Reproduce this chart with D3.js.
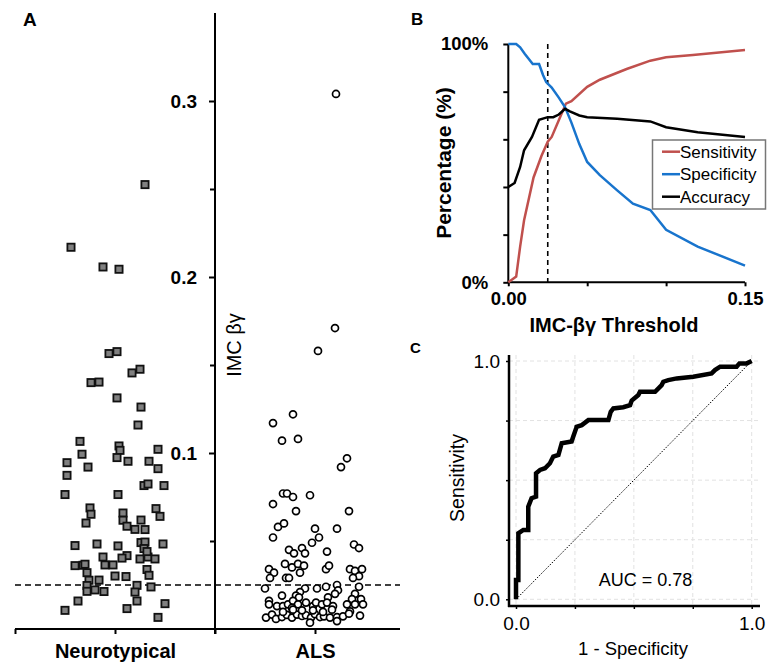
<!DOCTYPE html>
<html lang="en">
<head>
<meta charset="utf-8">
<title>IMC beta-gamma</title>
<script src="https://d3js.org/d3.v7.min.js" charset="utf-8"></script>
<style>
  body { margin: 0; background: #fff; }
  svg text { font-family: "Liberation Sans", Arial, sans-serif; fill: #000; }
</style>
</head>
<body>
<script>
// ---- data ----
var groups = ["Neurotypical", "ALS"];
var cutoff = 0.025;

var ntValues = [0.2525,0.2169,0.2057,0.2044,0.1565,0.1576,0.1455,0.1476,0.1400,0.1403,
  0.1313,0.1261,0.1159,0.1066,0.1040,0.1015,0.1021,0.0993,0.0945,0.0974,
  0.0953,0.0953,0.0911,0.0920,0.0873,0.0815,0.0824,0.0815,0.0764,0.0764,
  0.0688,0.0652,0.0684,0.0640,0.0659,0.0618,0.0602,0.0584,0.0619,0.0566,
  0.0565,0.0474,0.0483,0.0472,0.0491,0.0494,0.0457,0.0483,0.0409,0.0417,
  0.0403,0.0398,0.0409,0.0440,0.0398,0.0360,0.0362,0.0368,0.0364,0.0364,
  0.0338,0.0305,0.0320,0.0301,0.0298,0.0277,0.0278,0.0247,0.0214,0.0222,
  0.0213,0.0248,0.0210,0.0159,0.0239,0.0159,0.0116,0.0106,0.0144,0.0066];
var ntJitter = [0.30,-0.44,-0.12,0.04,-0.06,0.02,0.17,0.25,-0.24,-0.16,
  0.02,0.26,0.23,-0.35,0.04,0.05,0.43,-0.33,-0.48,0.02,
  0.13,0.34,0.43,-0.27,-0.48,0.29,0.33,0.49,-0.50,0.03,
  -0.25,-0.24,0.41,0.45,0.08,0.08,-0.29,0.12,0.26,0.20,
  0.30,-0.40,-0.18,0.03,0.26,0.30,0.29,0.48,-0.12,0.12,
  0.07,0.25,0.33,0.32,0.40,-0.40,-0.32,-0.30,-0.10,-0.02,
  0.32,0.34,-0.28,0.00,0.11,-0.26,-0.16,-0.28,-0.28,-0.20,
  -0.11,0.22,0.20,0.22,0.36,-0.37,0.12,-0.50,0.50,0.43];

var alsValues = [0.304,0.171,0.158,0.122,0.117,0.107,0.108,0.097,0.092,0.071,
  0.077,0.077,0.075,0.076,0.067,0.067,0.058,0.060,0.057,0.057,
  0.052,0.049,0.052,0.048,0.046,0.045,0.043,0.046,0.043,0.044,
  0.037,0.035,0.037,0.036,0.032,0.034,0.032,0.029,0.029,0.029,
  0.034,0.036,0.034,0.033,0.034,0.030,0.029,0.023,0.023,0.021,
  0.019,0.018,0.023,0.024,0.025,0.022,0.020,0.018,0.024,0.020,
  0.017,0.017,0.019,0.016,0.014,0.013,0.013,0.014,0.016,0.014,
  0.012,0.015,0.013,0.015,0.014,0.015,0.013,0.014,0.014,0.014,
  0.010,0.0065,0.0082,0.0057,0.0068,0.0080,0.0065,0.0082,0.0074,0.0078,
  0.0065,0.0084,0.0068,0.0072,0.0065,0.0068,0.0072,0.0087,0.0076,0.0036,
  0.0045,0.0097,0.0110,0.0106,0.0106,0.0097,0.0110];
var alsJitter = [0.21,0.20,0.03,-0.22,-0.42,-0.33,-0.17,0.32,0.26,-0.42,
  -0.32,-0.28,-0.22,-0.05,-0.19,0.34,-0.37,-0.31,0.00,0.22,
  -0.42,-0.03,0.04,0.39,0.44,-0.26,-0.21,-0.13,-0.10,0.12,
  -0.30,-0.23,-0.17,-0.11,-0.15,-0.46,-0.41,-0.45,-0.29,-0.26,
  0.11,0.14,0.35,0.40,0.47,0.44,0.38,-0.50,-0.10,-0.15,
  -0.19,-0.16,0.02,0.11,0.22,0.23,0.20,0.13,0.44,0.40,
  0.46,0.37,-0.33,-0.46,-0.46,-0.38,-0.32,-0.27,-0.22,-0.17,
  -0.23,-0.09,-0.02,0.01,0.07,0.12,0.18,0.32,0.40,0.48,
  0.35,-0.49,-0.43,-0.39,-0.33,-0.28,-0.23,-0.18,-0.13,-0.09,
  -0.04,0.00,0.05,0.09,0.15,0.22,0.28,0.34,0.45,-0.05,
  0.22,-0.32,-0.22,-0.13,-0.02,0.08,0.17];
var aTicks = [0.1, 0.2, 0.3];
var aMinorTicks = [0.05, 0.15, 0.25];

// panel B: [threshold, percent]
var sensitivity = [[0,0],[0.005,2.4],[0.0075,15],[0.01,26],[0.016,44],[0.021,53],[0.025,59],
  [0.0275,61],[0.032,68],[0.0365,75],[0.04,76],[0.05,82],[0.058,85],[0.075,89.5],[0.09,93],
  [0.10,94.4],[0.117,95.4],[0.15,97.5]];
var specificity = [[0,100],[0.005,100],[0.0075,98.6],[0.0105,95.8],[0.0155,91.6],[0.0195,91.6],
  [0.022,87],[0.024,84],[0.0275,81.7],[0.032,77.5],[0.036,73.4],[0.04,67],[0.045,58],[0.05,50.5],
  [0.058,45],[0.069,38.6],[0.079,33],[0.09,30.3],[0.10,22],[0.12,15],[0.15,7]];
var accuracy = [[0,40],[0.004,41.7],[0.0075,48.4],[0.01,55.4],[0.015,61],[0.0195,68.2],[0.025,69.3],
  [0.0285,69.3],[0.032,70.4],[0.036,72.8],[0.039,71.7],[0.045,70],[0.05,69.3],[0.069,68.6],
  [0.09,67.5],[0.10,65.1],[0.12,63],[0.15,61]];
var seriesNames = ["Sensitivity", "Specificity", "Accuracy"];
var seriesColors = ["#c0504d", "#1874cd", "#000000"];

// panel C ROC
var rocFpr = [0,0,0.010,0.010,0.031,0.052,0.052,0.066,0.085,0.085,0.102,0.123,0.144,0.158,0.180,
  0.194,0.236,0.243,0.255,0.257,0.279,0.307,0.392,0.402,0.413,0.455,0.484,0.491,0.519,0.526,
  0.590,0.618,0.625,0.646,0.682,0.752,0.830,0.844,0.866,0.936,0.948,0.979,1.0];
var rocTpr = [0,0.081,0.081,0.277,0.291,0.291,0.389,0.424,0.431,0.529,0.543,0.550,0.571,0.599,0.606,
  0.655,0.662,0.683,0.717,0.724,0.731,0.752,0.752,0.787,0.801,0.806,0.815,0.834,0.857,0.871,
  0.871,0.899,0.913,0.920,0.927,0.934,0.948,0.962,0.976,0.976,0.990,0.990,1.0];
var auc = 0.78;

// ---- drawing ----
var svg = d3.select("body").append("svg").attr("width", 767).attr("height", 662);

function panelLabel(t, x, y, size) {
  svg.append("text").attr("x", x).attr("y", y).attr("font-size", size)
    .attr("font-weight", "bold").text(t);
}

// ===== Panel A =====
var xA = d3.scaleLinear().domain([0, 3.85]).range([15, 400]);
var yA = d3.scaleLinear().domain([0, 0.35]).range([629, 13]);

var gA = svg.append("g");
gA.append("line").attr("x1", xA(2)).attr("x2", xA(2)).attr("y1", yA(0.35)).attr("y2", yA(0) + 5)
  .attr("stroke", "#000").attr("stroke-width", 2);
gA.append("line").attr("x1", xA(0)).attr("x2", xA(3.85)).attr("y1", yA(0)).attr("y2", yA(0))
  .attr("stroke", "#000").attr("stroke-width", 2);

var ayMaj = gA.append("g").attr("transform", "translate(" + xA(2) + ",0)")
  .call(d3.axisLeft(yA).tickValues(aTicks).tickSize(6).tickPadding(12).tickFormat(d3.format(".1f")));
var ayMin = gA.append("g").attr("transform", "translate(" + xA(2) + ",0)")
  .call(d3.axisLeft(yA).tickValues(aMinorTicks).tickSize(5).tickFormat(""));
var axA = gA.append("g").attr("transform", "translate(0," + yA(0) + ")")
  .call(d3.axisBottom(xA).tickValues([0, 1, 2, 3]).tickSize(5).tickPadding(10)
    .tickFormat(function (d) { return d === 1 ? groups[0] : d === 3 ? groups[1] : ""; }));
[ayMaj, ayMin, axA].forEach(function (g) {
  g.select(".domain").remove();
  g.selectAll(".tick line").attr("stroke", "#000").attr("stroke-width", 2);
  g.selectAll("text").attr("font-size", 19).attr("font-weight", "bold")
    .style("font-family", "'Liberation Sans', Arial, sans-serif");
});
axA.selectAll("text").attr("font-size", 20);

gA.append("text").attr("transform", "translate(241,345) rotate(-90)")
  .attr("text-anchor", "middle").attr("font-size", 20).text("IMC βγ");

gA.append("line").attr("x1", xA(0)).attr("x2", xA(3.85)).attr("y1", yA(cutoff)).attr("y2", yA(cutoff))
  .attr("stroke", "#000").attr("stroke-width", 1.6).attr("stroke-dasharray", "6,4");

gA.selectAll("rect.nt").data(ntValues).enter().append("rect").attr("class", "nt")
  .attr("x", function (d, i) { return xA(1 + ntJitter[i]) - 3.6; })
  .attr("y", function (d) { return yA(d) - 3.6; })
  .attr("width", 7.2).attr("height", 7.2)
  .attr("fill", "#808080").attr("stroke", "#111").attr("stroke-width", 1.8);

gA.selectAll("circle.als").data(alsValues).enter().append("circle").attr("class", "als")
  .attr("cx", function (d, i) { return xA(3 + alsJitter[i]); })
  .attr("cy", function (d) { return yA(d); })
  .attr("r", 3.5).attr("fill", "#fff").attr("stroke", "#000").attr("stroke-width", 1.7);

panelLabel("A", 23, 26, 19);

// ===== Panel B =====
var xB = d3.scaleLinear().domain([0, 0.15]).range([508.3, 745]);
var yB = d3.scaleLinear().domain([0, 100]).range([282.3, 44]);
var gB = svg.append("g");

var byAx = gB.append("g").attr("transform", "translate(" + xB(0) + ",0)")
  .call(d3.axisLeft(yB).tickValues([0, 20, 40, 60, 80, 100]).tickSize(5).tickPadding(15)
    .tickFormat(function (d) { return d === 0 || d === 100 ? d + "%" : ""; }));
var bxAx = gB.append("g").attr("transform", "translate(0," + yB(0) + ")")
  .call(d3.axisBottom(xB).tickValues([0, 0.05, 0.1, 0.15]).tickSize(4).tickPadding(6)
    .tickFormat(function (d) { return d === 0 || d === 0.15 ? d3.format(".2f")(d) : ""; }));
[byAx, bxAx].forEach(function (g) {
  g.select(".domain").attr("stroke", "#000").attr("stroke-width", 2);
  g.selectAll(".tick line").attr("stroke", "#000").attr("stroke-width", 2);
  g.selectAll("text").attr("font-size", 18.5).attr("font-weight", "bold")
    .style("font-family", "'Liberation Sans', Arial, sans-serif");
});
byAx.select(".domain").attr("d", "M0," + yB(100) + "V" + yB(0));
bxAx.select(".domain").attr("d", "M" + xB(0) + ",0H" + xB(0.15));

gB.append("line").attr("x1", xB(cutoff)).attr("x2", xB(cutoff)).attr("y1", yB(100)).attr("y2", yB(0))
  .attr("stroke", "#000").attr("stroke-width", 1.6).attr("stroke-dasharray", "5,4");

var lineB = d3.line().x(function (d) { return xB(d[0]); }).y(function (d) { return yB(d[1]); });
[sensitivity, specificity, accuracy].forEach(function (s, i) {
  gB.append("path").datum(s).attr("d", lineB).attr("fill", "none")
    .attr("stroke", seriesColors[i]).attr("stroke-width", 2.5);
});

gB.append("text").attr("transform", "translate(451,163) rotate(-90)")
  .attr("text-anchor", "middle").attr("font-size", 21).attr("font-weight", "bold").text("Percentage (%)");
gB.append("text").attr("x", 614).attr("y", 332).attr("text-anchor", "middle")
  .attr("font-size", 20).attr("font-weight", "bold").text("IMC-βγ Threshold");

var leg = gB.append("g");
leg.append("rect").attr("x", 652.5).attr("y", 140).attr("width", 113).attr("height", 69)
  .attr("fill", "#fff").attr("stroke", "#777").attr("stroke-width", 1.5);
seriesNames.forEach(function (n, i) {
  var yy = 151.7 + i * 22.5;
  leg.append("line").attr("x1", 662).attr("x2", 680).attr("y1", yy).attr("y2", yy)
    .attr("stroke", seriesColors[i]).attr("stroke-width", 2.5);
  leg.append("text").attr("x", 680).attr("y", yy + 6).attr("font-size", 17).text(n);
});

panelLabel("B", 411, 25, 17);

// ===== Panel C =====
var xC = d3.scaleLinear().domain([0, 1]).range([516, 751.7]);
var yC = d3.scaleLinear().domain([0, 1]).range([599.3, 361]);
var gC = svg.append("g");
var cLeft = 509, cBottom = 606, cRight = 760, cTop = 355;
var gridVals = [0, 0.25, 0.5, 0.75, 1];

gC.selectAll("line.gv").data(gridVals).enter().append("line").attr("class", "gv")
  .attr("x1", function (d) { return xC(d); }).attr("x2", function (d) { return xC(d); })
  .attr("y1", cTop).attr("y2", cBottom)
  .attr("stroke", "#e2e2e2").attr("stroke-width", 1).attr("stroke-dasharray", "4,3");
gC.selectAll("line.gh").data(gridVals).enter().append("line").attr("class", "gh")
  .attr("y1", function (d) { return yC(d); }).attr("y2", function (d) { return yC(d); })
  .attr("x1", cLeft).attr("x2", cRight)
  .attr("stroke", "#e2e2e2").attr("stroke-width", 1).attr("stroke-dasharray", "4,3");

var cyAx = gC.append("g").attr("transform", "translate(" + cLeft + ",0)")
  .call(d3.axisLeft(yC).tickValues(gridVals).tickSize(3).tickPadding(6)
    .tickFormat(function (d) { return d === 0 || d === 1 ? d3.format(".1f")(d) : ""; }));
var cxAx = gC.append("g").attr("transform", "translate(0," + cBottom + ")")
  .call(d3.axisBottom(xC).tickValues(gridVals).tickSize(3).tickPadding(8)
    .tickFormat(function (d) { return d === 0 || d === 1 ? d3.format(".1f")(d) : ""; }));
[cyAx, cxAx].forEach(function (g) {
  g.select(".domain").remove();
  g.selectAll(".tick line").attr("stroke", "#000").attr("stroke-width", 1.5);
  g.selectAll("text").attr("font-size", 19)
    .style("font-family", "'Liberation Sans', Arial, sans-serif");
});
gC.append("line").attr("x1", cLeft).attr("x2", cLeft).attr("y1", cTop).attr("y2", cBottom + 1)
  .attr("stroke", "#000").attr("stroke-width", 2.5);
gC.append("line").attr("x1", cLeft - 1).attr("x2", cRight).attr("y1", cBottom).attr("y2", cBottom)
  .attr("stroke", "#000").attr("stroke-width", 2.5);

gC.append("line").attr("x1", xC(0)).attr("y1", yC(0)).attr("x2", xC(1)).attr("y2", yC(1))
  .attr("stroke", "#000").attr("stroke-width", 1).attr("stroke-dasharray", "1.5,1.5");

var rocPts = rocFpr.map(function (f, i) { return [f, rocTpr[i]]; });
gC.append("path").datum(rocPts)
  .attr("d", d3.line().x(function (d) { return xC(d[0]); }).y(function (d) { return yC(d[1]); }))
  .attr("fill", "none").attr("stroke", "#000").attr("stroke-width", 4.5).attr("stroke-linejoin", "miter");

gC.append("text").attr("x", 645.5).attr("y", 586).attr("text-anchor", "middle")
  .attr("font-size", 18).text("AUC = " + auc.toFixed(2));
gC.append("text").attr("x", 633).attr("y", 655).attr("text-anchor", "middle")
  .attr("font-size", 18.5).text("1 - Specificity");
gC.append("text").attr("transform", "translate(464,478) rotate(-90)")
  .attr("text-anchor", "middle").attr("font-size", 19.5).text("Sensitivity");

panelLabel("C", 410, 353, 15);
</script>
</body>
</html>
